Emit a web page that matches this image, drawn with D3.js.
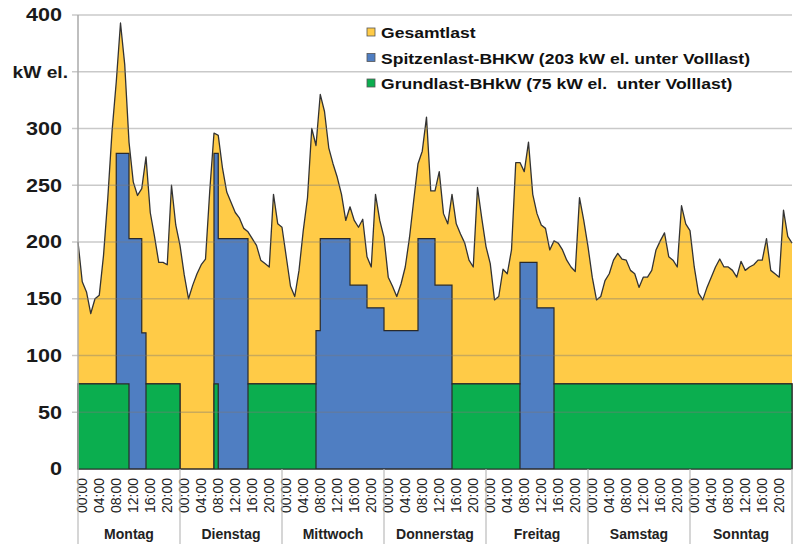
<!DOCTYPE html>
<html>
<head>
<meta charset="utf-8">
<script src="https://cdn.jsdelivr.net/npm/d3@7"></script>
<style>
  body { margin: 0; background: #fff; }
  svg { display: block; font-family: "Liberation Sans", Arial, sans-serif; }
</style>
</head>
<body>
<div id="chart"></div>
<script>
// Wochentage und Uhrzeit-Beschriftung
const days = ["Montag", "Dienstag", "Mittwoch", "Donnerstag", "Freitag", "Samstag", "Sonntag"]
const hourLabels = ["00:00", "04:00", "08:00", "12:00", "16:00", "20:00"]
const yTicks = [0, 50, 100, 150, 200, 250, 300, 350, 400]
const yTickLabels = ["0", "50", "100", "150", "200", "250", "300", "kW el.", "400"]

// Gesamtlast, stündlich (kW el.), Mo 00:00 bis So 24:00
const gesamtlast = [
  200, 165, 156, 137, 150, 153, 188, 238, 297, 341, 393, 356, 288, 253, 241, 247, 275, 226, 205, 182, 182, 180, 250, 215,
  197, 171, 150, 162, 172, 180, 185, 245, 296, 294, 265, 244, 235, 226, 221, 212, 209, 203, 197, 184, 181, 178, 242, 216,
  213, 187, 161, 152, 175, 210, 239, 300, 285, 330, 315, 283, 269, 257, 242, 219, 231, 219, 213, 220, 187, 178, 242, 219,
  204, 169, 161, 152, 163, 178, 204, 237, 269, 280, 310, 245, 245, 262, 225, 216, 242, 216, 207, 199, 184, 178, 248, 221,
  196, 181, 149, 152, 176, 172, 193, 270, 270, 262, 288, 242, 225, 215, 212, 193, 201, 199, 193, 184, 178, 174, 239, 219,
  196, 169, 149, 152, 166, 172, 184, 190, 185, 184, 175, 172, 160, 169, 169, 175, 193, 201, 208, 187, 184, 178, 232, 216,
  210, 178, 155, 149, 160, 169, 178, 185, 178, 178, 175, 169, 183, 175, 178, 180, 184, 184, 203, 175, 172, 169, 228, 205,
  199
]

// Spitzenlast-BHKW (Summe beider BHKW): [Stunde ab, kW]
const spitzenSteps = [
  [0, 75], [9, 278], [12, 203], [15, 120], [16, 75], [24, 0], [32, 278], [33, 203], [40, 75],
  [56, 122], [57, 203], [64, 162], [68, 142], [72, 122], [80, 203], [84, 162], [88, 75],
  [104, 182], [108, 142], [112, 75]
]

// Grundlast-BHkW: [Stunde ab, kW]
const grundSteps = [
  [0, 75], [12, 0], [16, 75], [24, 0], [32, 75], [33, 0], [40, 75], [56, 0], [88, 75], [104, 0], [112, 75]
]

const legendLabels = [
  "Gesamtlast",
  "Spitzenlast-BHKW (203 kW el. unter Volllast)",
  "Grundlast-BHkW (75 kW el.  unter Volllast)"
]

const colors = { gesamt: "#FFCB47", spitze: "#4F7EC2", grund: "#0BAE4F", outline: "#2a2a2a" }

const dimensions = {
  width: 797,
  height: 544,
  margin: { top: 15, right: 5, bottom: 75, left: 78 }
}
dimensions.boundedWidth = dimensions.width - dimensions.margin.left - dimensions.margin.right
dimensions.boundedHeight = dimensions.height - dimensions.margin.top - dimensions.margin.bottom

// Treppen in stündliche Werte umsetzen
function expandSteps(steps) {
  return d3.range(gesamtlast.length).map(h => {
    let v = 0
    steps.forEach(s => { if (s[0] <= h) v = s[1] })
    return v
  })
}
const spitzen = expandSteps(spitzenSteps)
const grund = expandSteps(grundSteps)

const xScale = d3.scaleLinear()
  .domain([0, 168])
  .range([0, dimensions.boundedWidth])
const yScale = d3.scaleLinear()
  .domain([0, 400])
  .range([dimensions.boundedHeight, 0])

const svg = d3.select("#chart").append("svg")
  .attr("width", dimensions.width)
  .attr("height", dimensions.height)

const bounds = svg.append("g")
  .attr("transform", `translate(${dimensions.margin.left},${dimensions.margin.top})`)

// Flächen
const gesamtArea = d3.area()
  .x((d, i) => xScale(i))
  .y0(yScale(0))
  .y1(d => yScale(d))
const gesamtLine = d3.line()
  .x((d, i) => xScale(i))
  .y(d => yScale(d))
const stepArea = d3.area()
  .x((d, i) => xScale(i))
  .y0(yScale(0))
  .y1(d => yScale(d))
  .curve(d3.curveStepAfter)

bounds.append("path")
  .attr("d", gesamtArea(gesamtlast))
  .attr("fill", colors.gesamt)

bounds.append("path")
  .attr("d", stepArea(spitzen))
  .attr("fill", colors.spitze)
  .attr("stroke", colors.outline)
  .attr("stroke-width", 1.2)
  .attr("stroke-linejoin", "miter")

bounds.append("path")
  .attr("d", stepArea(grund))
  .attr("fill", colors.grund)
  .attr("stroke", colors.outline)
  .attr("stroke-width", 1.2)

bounds.append("path")
  .attr("d", gesamtLine(gesamtlast))
  .attr("fill", "none")
  .attr("stroke", "#333")
  .attr("stroke-width", 1.3)
  .attr("stroke-linejoin", "round")

// Gitterlinien
bounds.append("g")
  .selectAll("line")
  .data(yTicks.filter(d => d > 0))
  .join("line")
    .attr("x1", -6)
    .attr("x2", dimensions.boundedWidth)
    .attr("y1", d => yScale(d))
    .attr("y2", d => yScale(d))
    .attr("stroke", "#777")
    .attr("stroke-opacity", 0.4)
    .attr("stroke-width", 1.5)

bounds.append("line")
  .attr("x1", 0).attr("x2", 0)
  .attr("y1", 0).attr("y2", dimensions.boundedHeight)
  .attr("stroke", "#aaa")
  .attr("stroke-width", 1.5)

// y-Beschriftung
const yLabels = svg.append("g")
  .selectAll("g")
  .data(yTicks)
  .join("g")
    .attr("transform", (d, i) => `translate(${yTickLabels[i] === "kW el." ? 68 : 62},${dimensions.margin.top + yScale(d)}) scale(1.2,1)`)
yLabels.append("text")
  .attr("text-anchor", "end")
  .attr("dy", "0.36em")
  .attr("font-size", (d, i) => yTickLabels[i] === "kW el." ? 16 : 18)
  .attr("font-weight", "bold")
  .attr("fill", "#1a1a1a")
  .text((d, i) => yTickLabels[i])

// x-Achse mit Uhrzeiten
const tickHours = d3.range(0, 168, 4)
const xAxisGenerator = d3.axisBottom(xScale)
  .tickValues(tickHours)
  .tickSize(0)
  .tickFormat(h => hourLabels[(h % 24) / 4])

const xAxis = bounds.append("g")
  .attr("transform", `translate(0,${dimensions.boundedHeight})`)
  .call(xAxisGenerator)
xAxis.select(".domain").remove()
xAxis.selectAll("text")
  .attr("transform", "rotate(-90)")
  .attr("text-anchor", "end")
  .attr("x", -9)
  .attr("y", 8.5)
  .attr("dy", 0)
  .attr("font-size", 14)
  .attr("font-family", "\"Liberation Sans\", Arial, sans-serif")
  .attr("fill", "#222")

// Tagestrenner und Tagesnamen
bounds.append("g")
  .selectAll("line")
  .data(d3.range(0, 8))
  .join("line")
    .attr("x1", d => xScale(d * 24))
    .attr("x2", d => xScale(d * 24))
    .attr("y1", dimensions.boundedHeight)
    .attr("y2", dimensions.height - dimensions.margin.top)
    .attr("stroke", "#bbb")
    .attr("stroke-width", 1.2)

bounds.append("g")
  .selectAll("text")
  .data(days)
  .join("text")
    .attr("x", (d, i) => xScale(i * 24 + 12))
    .attr("y", dimensions.boundedHeight + 70)
    .attr("text-anchor", "middle")
    .attr("font-size", 14)
    .attr("font-weight", "bold")
    .attr("fill", "#222")
    .text(d => d)

// Legende
const legend = svg.append("g")
  .attr("transform", "translate(367,28)")
const legendItems = legend.selectAll("g")
  .data(legendLabels)
  .join("g")
    .attr("transform", (d, i) => `translate(0,${i * 25.5})`)
legendItems.append("rect")
  .attr("width", 8)
  .attr("height", 8)
  .attr("fill", (d, i) => [colors.gesamt, colors.spitze, colors.grund][i])
  .attr("stroke", "#555")
  .attr("stroke-width", 0.8)
legendItems.append("g")
  .attr("transform", "translate(14,10) scale(1.17,1)")
  .append("text")
    .attr("font-size", 15)
    .attr("font-weight", "bold")
    .attr("fill", "#111")
    .style("white-space", "pre")
    .text(d => d)
</script>
</body>
</html>
